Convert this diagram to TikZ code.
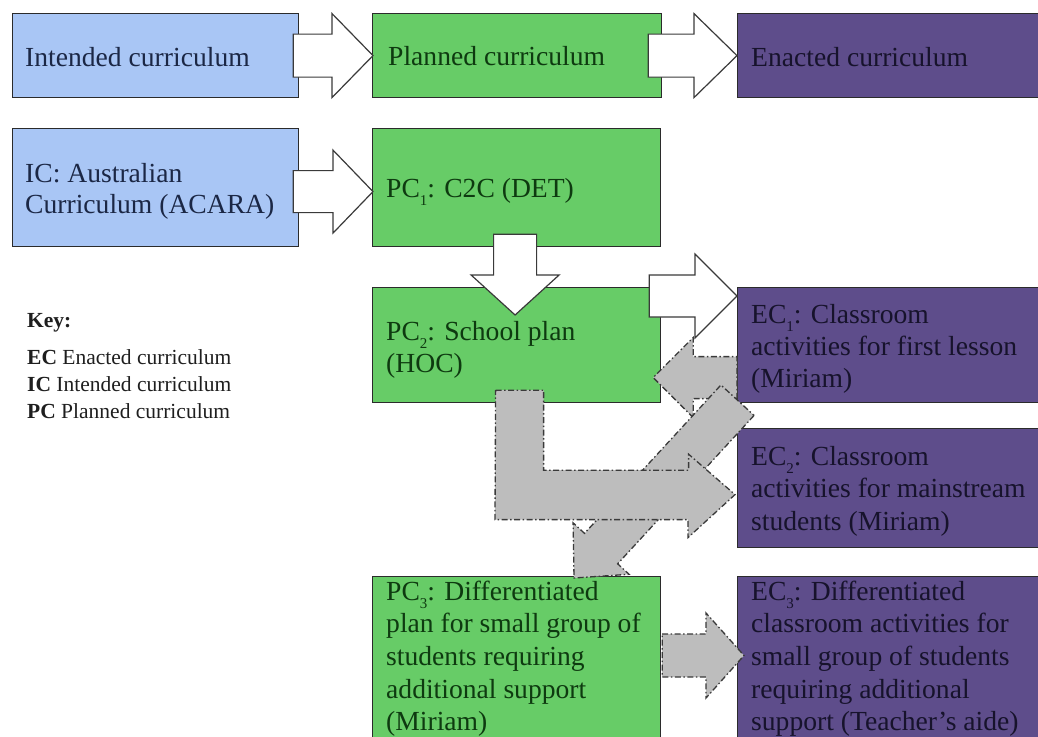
\documentclass[tikz,border=0pt]{standalone}
\usepackage{fontspec}
\setmainfont{Liberation Serif}
\usetikzlibrary{calc}

\definecolor{icblue}{HTML}{A9C6F5}
\definecolor{pcgreen}{HTML}{67CC67}
\definecolor{ecpurple}{HTML}{5E4D8B}
\definecolor{blueink}{HTML}{1B2745}
\definecolor{greenink}{HTML}{0E3A10}
\definecolor{purpleink}{HTML}{17132C}
\definecolor{keyink}{HTML}{1E1E1E}
\definecolor{edgeink}{HTML}{2B2B2B}
\definecolor{arrowline}{HTML}{3A3A3A}
\definecolor{arrowgray}{HTML}{BDBDBD}

% lines of text stacked with a fixed baseline distance; the node's baseline is the first line's
\newcommand\textlines[2][32.7pt]{\vtop{\baselineskip=#1\lineskiplimit=-100pt\lineskip=0pt
  \halign{##\hfil\cr#2\crcr}}}
% low subscript index, as in PC1
\newcommand\lowsub[1]{\raisebox{-8pt}{\fontsize{15pt}{15pt}\selectfont #1}}

% block arrow from tail #2 to tip #3; #4 shaft half width, #5 head half width, #6 head length
\newcommand\blockarrow[6]{%
  \coordinate (ba-base) at ($(#3)!#6!(#2)$);
  \draw[#1] ($(#2)!#4!90:(#3)$) -- ($(ba-base)!#4!90:(#3)$) -- ($(ba-base)!#5!90:(#3)$)
    -- (#3) -- ($(ba-base)!#5!-90:(#3)$) -- ($(ba-base)!#4!-90:(#3)$)
    -- ($(#2)!#4!-90:(#3)$) -- cycle;
}

\tikzset{
  box/.style={draw=edgeink, line width=1.2pt, inner sep=0pt, anchor=north west},
  icbox/.style={box, fill=icblue},
  pcbox/.style={box, fill=pcgreen},
  ecbox/.style={box, fill=ecpurple},
  txt/.style={anchor=base west, inner sep=0pt, font=\fontsize{27.6pt}{31pt}\selectfont},
  keytxt/.style={anchor=base west, inner sep=0pt, text=keyink, font=\fontsize{21.5pt}{27pt}\selectfont},
  whitearrow/.style={draw=arrowline, fill=white, line width=1.2pt, line join=miter},
  grayarrow/.style={draw=arrowline, fill=arrowgray, line width=1.3pt,
    dash pattern=on 6pt off 2.5pt on 1.5pt off 2.5pt},
}

\begin{document}
\begin{tikzpicture}[x=1pt, y=-1pt]
\useasboundingbox (0,0) rectangle (1038,736);
\clip (0,0) rectangle (1038,736);

% boxes
\node[icbox, minimum width=286pt, minimum height=84pt] (intended) at (12,13) {};
\node[pcbox, minimum width=289pt, minimum height=84pt] (planned) at (372,13) {};
\node[ecbox, minimum width=320pt, minimum height=84pt] (enacted) at (737,13) {};
\node[icbox, minimum width=286pt, minimum height=118pt] (ic) at (12,128) {};
\node[pcbox, minimum width=288pt, minimum height=118pt] (pc1) at (372,128) {};
\node[pcbox, minimum width=288pt, minimum height=115pt] (pc2) at (372,287) {};
\node[ecbox, minimum width=320pt, minimum height=115pt] (ec1) at (737,287) {};
\node[ecbox, minimum width=320pt, minimum height=119pt] (ec2) at (737,428) {};
\node[pcbox, minimum width=288pt, minimum height=180pt] (pc3) at (372,576) {};
\node[ecbox, minimum width=320pt, minimum height=180pt] (ec3) at (737,576) {};

% white block arrows
\coordinate (a1t) at ($(intended.east)+(-6,0)$);
\coordinate (a1h) at ($(planned.west)+(1,0)$);
\blockarrow{whitearrow}{a1t}{a1h}{21.5pt}{42pt}{41pt}
\coordinate (a2t) at ($(planned.east)+(-14,0)$);
\coordinate (a2h) at (enacted.west);
\blockarrow{whitearrow}{a2t}{a2h}{21.5pt}{42pt}{43pt}
\coordinate (a3t) at ($(ic.east)+(-6,4)$);
\coordinate (a3h) at ($(pc1.west)+(1,4)$);
\blockarrow{whitearrow}{a3t}{a3h}{21pt}{41.5pt}{40pt}
\coordinate (a4t) at ($(pc1.south)+(-1.5,-13)$);
\coordinate (a4h) at ($(pc2.north)+(-1.5,28)$);
\blockarrow{whitearrow}{a4t}{a4h}{21.5pt}{44pt}{40pt}
\coordinate (a5t) at ($(pc2.north east)+(-12,9)$);
\coordinate (a5h) at ($(ec1.north west)+(0,9)$);
\blockarrow{whitearrow}{a5t}{a5h}{21pt}{42pt}{42pt}

% box texts
\node[txt, text=blueink] (intended-t) at (25,66) {Intended curriculum};
\node[txt, text=greenink] (planned-t) at (388,65) {Planned curriculum};
\node[txt, text=purpleink] (enacted-t) at (751,66) {Enacted curriculum};
\node[txt, text=blueink] (ic-t) at (25,182) {\textlines[31pt]{IC: Australian\cr Curriculum (ACARA)}};
\node[txt, text=greenink] (pc1-t) at (386,197) {PC\lowsub{1}: C2C (DET)};
\node[txt, text=greenink] (pc2-t) at (386,340) {\textlines{PC\lowsub{2}: School plan\cr (HOC)}};
\node[txt, text=purpleink] (ec1-t) at (751,323) {\textlines[32pt]{EC\lowsub{1}: Classroom\cr activities for first lesson\cr (Miriam)}};
\node[txt, text=purpleink] (ec2-t) at (751,465) {\textlines[32.5pt]{EC\lowsub{2}: Classroom\cr activities for mainstream\cr students (Miriam)}};
\node[txt, text=greenink] (pc3-t) at (386,600) {\textlines{PC\lowsub{3}: Differentiated\cr plan for small group of\cr students requiring\cr additional support\cr (Miriam)}};
\node[txt, text=purpleink] (ec3-t) at (751,600) {\textlines{EC\lowsub{3}: Differentiated\cr classroom activities for\cr small group of students\cr requiring additional\cr support (Teacher’s aide)}};

% key
\node[keytxt] (key) at (27,327) {\textbf{Key:}};
\node[keytxt] (keylist) at (27,364) {\textlines[27pt]{\textbf{EC} Enacted curriculum\cr
  \textbf{IC} Intended curriculum\cr \textbf{PC} Planned curriculum}};

% grey block arrows
\coordinate (g1t) at ($(ec1.west)+(0,32.5)$);
\coordinate (g1h) at ($(pc2.east)+(-8,32.5)$);
\blockarrow{grayarrow}{g1t}{g1h}{21pt}{40pt}{40pt}
\coordinate (g3t) at ($(ec1.south west)+(0.5,-3)$);
\coordinate (g3h) at ($(pc3.north west)+(202,2)$);
\blockarrow{grayarrow}{g3t}{g3h}{22.5pt}{38pt}{40pt}
\draw[grayarrow] ($(pc2.south)+(-21,-13)$) -- ++(48,0) -- ++(0,80) -- ++(145,0) -- ++(0,-16)
  -- ($(ec2.west)+(-2,6.5)$) -- ++(-47,43) -- ++(0,-18) -- ++(-193,0) -- cycle;
\coordinate (g4t) at ($(pc3.north east)+(1,79.5)$);
\coordinate (g4h) at ($(ec3.north west)+(7,79.5)$);
\blockarrow{grayarrow}{g4t}{g4h}{21.5pt}{42.5pt}{38pt}
\end{tikzpicture}
\end{document}
